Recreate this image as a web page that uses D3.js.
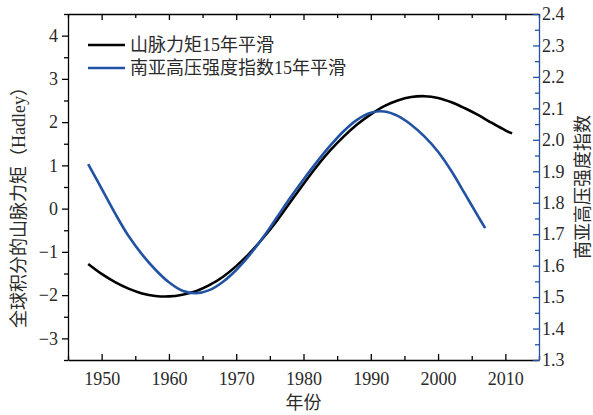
<!DOCTYPE html>
<html lang="en">
<head>
<meta charset="UTF-8">
<title>山脉力矩与南亚高压强度指数</title>
<script src="https://d3js.org/d3.v7.min.js"></script>
<style>
  * { margin: 0; padding: 0; }
  body { background: #fff; font-family: "Liberation Serif", serif; }
  svg text { fill: #2a2a2a; }
  .axis path, .axis line { stroke: #000; stroke-width: 1.3; }
  .right path, .right line { stroke: #2152a3; }
</style>
</head>
<body>
<div id="chart"></div>
<script>
// mountain torque, 15-yr smoothed (left axis)
const torqueYears = [1948,1950,1952,1954,1956,1958,1960,1962,1964,1966,1968,1970,1972,1974,1976,1978,1980,1982,1984,1986,1988,1990,1992,1994,1996,1998,2000,2002,2004,2006,2008,2010,2011];
const torqueVals  = [-1.28,-1.51,-1.70,-1.85,-1.96,-2.02,-2.03,-1.99,-1.91,-1.77,-1.58,-1.33,-1.03,-0.68,-0.29,0.14,0.57,0.98,1.35,1.67,1.95,2.18,2.37,2.50,2.58,2.60,2.56,2.46,2.32,2.16,1.98,1.81,1.74];

// South Asian High intensity index, 15-yr smoothed (right axis)
const sahYears = [1948,1950,1952,1954,1956,1958,1960,1962,1964,1966,1968,1970,1972,1974,1976,1978,1980,1982,1984,1986,1988,1990,1992,1994,1996,1998,2000,2002,2004,2006,2007];
const sahVals  = [1.923,1.845,1.766,1.694,1.636,1.587,1.547,1.520,1.512,1.522,1.548,1.586,1.634,1.690,1.752,1.815,1.874,1.930,1.982,2.028,2.064,2.086,2.090,2.076,2.048,2.010,1.962,1.900,1.828,1.755,1.719];

const xTicks = [1950,1960,1970,1980,1990,2000,2010];
const leftTicks = [-3,-2,-1,0,1,2,3,4];
const rightTicks = [1.3,1.4,1.5,1.6,1.7,1.8,1.9,2.0,2.1,2.2,2.3,2.4];

const FONT = "'Liberation Serif', 'Times New Roman', Tinos, 'DejaVu Serif', 'Noto Sans CJK SC', serif";

const W = 593, H = 415;
const margin = { top: 14, right: 54, bottom: 55, left: 68 };
const width = W - margin.left - margin.right;
const height = H - margin.top - margin.bottom;

const svg = d3.select("#chart").append("svg")
    .attr("width", W)
    .attr("height", H)
    .attr("font-family", FONT);

const g = svg.append("g")
    .attr("transform", `translate(${margin.left},${margin.top})`);

const x = d3.scaleLinear().domain([1945, 2015]).range([0, width]);
const yL = d3.scaleLinear().domain([-3.5, 4.5]).range([height, 0]);
const yR = d3.scaleLinear().domain([1.3, 2.4]).range([height, 0]);

const minorX = d3.range(1945, 2016, 5).filter(v => v % 10 !== 0);
const minorL = d3.range(-3.5, 4.51, 1);
const minorR = d3.range(1.35, 2.4, 0.1);

// d3 axes put font-family="sans-serif" on their group, so reset it
const styleAxis = a => a.attr("font-family", FONT).attr("font-size", 18);

// minor ticks first so major ones sit on top
g.append("g").attr("class", "axis")
    .attr("transform", `translate(0,${height})`)
    .call(d3.axisBottom(x).tickValues(minorX).tickSize(-4).tickFormat(""))
    .call(a => a.select(".domain").remove());
g.append("g").attr("class", "axis")
    .call(d3.axisTop(x).tickValues(minorX).tickSize(-4).tickFormat(""))
    .call(a => a.select(".domain").remove());
g.append("g").attr("class", "axis")
    .call(d3.axisLeft(yL).tickValues(minorL).tickSize(4).tickFormat(""))
    .call(a => a.select(".domain").remove());
g.append("g").attr("class", "axis right")
    .attr("transform", `translate(${width},0)`)
    .call(d3.axisRight(yR).tickValues(minorR).tickSize(-4).tickFormat(""))
    .call(a => a.select(".domain").remove());

// bottom axis, ticks pointing in
g.append("g").attr("class", "axis")
    .attr("transform", `translate(0,${height})`)
    .call(d3.axisBottom(x).tickValues(xTicks).tickSize(-6).tickSizeOuter(0).tickPadding(12).tickFormat(d3.format("d")))
    .call(styleAxis);

// top axis
g.append("g").attr("class", "axis")
    .call(d3.axisTop(x).tickValues(xTicks).tickSize(-6).tickSizeOuter(0).tickFormat(""));

// left axis, ticks pointing out
g.append("g").attr("class", "axis")
    .call(d3.axisLeft(yL).tickValues(leftTicks).tickSize(6).tickSizeOuter(0).tickPadding(4)
        .tickFormat(d => d < 0 ? "\u2212" + Math.abs(d) : d))
    .call(styleAxis);

// right axis (blue)
const rAxis = g.append("g").attr("class", "axis right")
    .attr("transform", `translate(${width},0)`)
    .call(d3.axisRight(yR).tickValues(rightTicks).tickSize(-6).tickSizeOuter(0).tickPadding(3).tickFormat(d3.format(".1f")))
    .call(styleAxis);
rAxis.selectAll("text").style("fill", "#2a2a2a");

const torque = torqueYears.map((yr, i) => ({ x: yr, y: torqueVals[i] }));
const sah = sahYears.map((yr, i) => ({ x: yr, y: sahVals[i] }));

g.append("path")
    .datum(torque)
    .attr("fill", "none")
    .attr("stroke", "#000")
    .attr("stroke-width", 2.6)
    .attr("d", d3.line().x(d => x(d.x)).y(d => yL(d.y)).curve(d3.curveCatmullRom));

g.append("path")
    .datum(sah)
    .attr("fill", "none")
    .attr("stroke", "#2152a3")
    .attr("stroke-width", 2.6)
    .attr("d", d3.line().x(d => x(d.x)).y(d => yR(d.y)).curve(d3.curveCatmullRom));

// legend
const legendItems = [
    { label: "山脉力矩15年平滑", color: "#000" },
    { label: "南亚高压强度指数15年平滑", color: "#2152a3" }
];
legendItems.forEach((item, i) => {
    const row = svg.append("g").attr("transform", `translate(88,${45 + i * 23})`);
    row.append("line")
        .attr("x1", 0).attr("x2", 37)
        .attr("stroke", item.color)
        .attr("stroke-width", 2.6);
    row.append("text")
        .attr("x", 42)
        .attr("dy", "0.35em")
        .attr("font-size", 18)
        .text(item.label);
});

// axis titles
svg.append("text")
    .attr("x", margin.left + width / 2)
    .attr("y", 409)
    .attr("text-anchor", "middle")
    .attr("font-size", 18)
    .text("年份");

svg.append("text")
    .attr("transform", "translate(25,203) rotate(-90)")
    .attr("text-anchor", "middle")
    .attr("font-size", 18)
    .text("全球积分的山脉力矩（Hadley）");

svg.append("text")
    .attr("transform", `translate(589,${margin.top + height / 2}) rotate(-90)`)
    .attr("text-anchor", "middle")
    .attr("font-size", 18)
    .text("南亚高压强度指数");
</script>
</body>
</html>
